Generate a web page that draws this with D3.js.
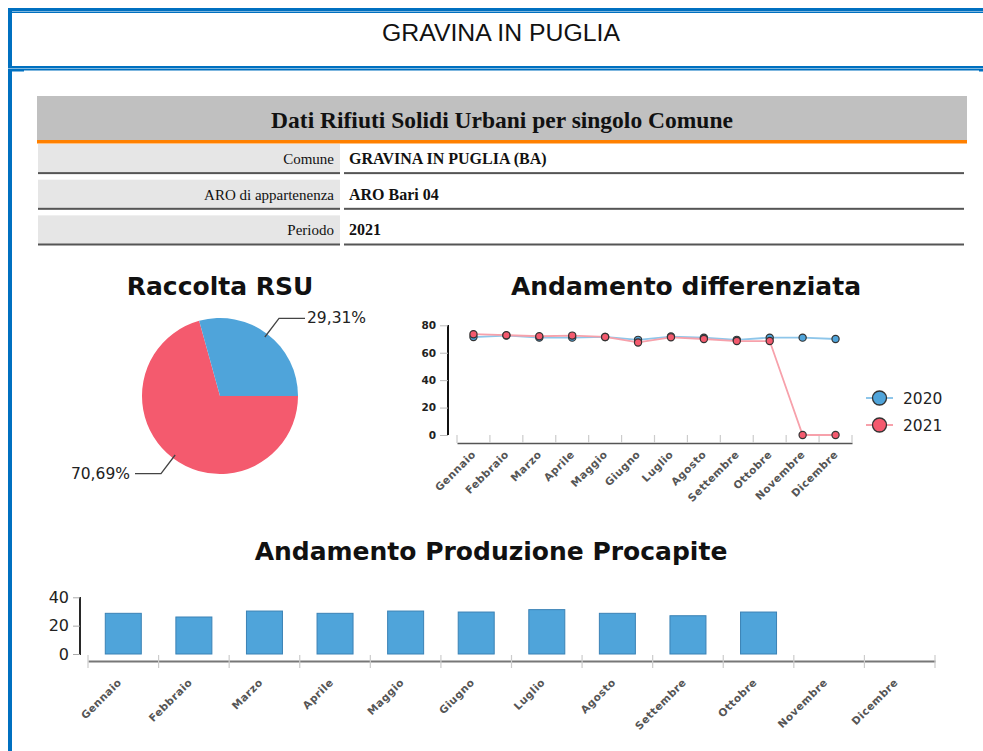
<!DOCTYPE html>
<html>
<head>
<meta charset="utf-8">
<script src="https://cdn.jsdelivr.net/npm/d3@7"></script>
<style>
  body { margin: 0; background: #fff; }
  svg { display: block; }
  .serif { font-family: "Liberation Serif", "Times New Roman", serif; }
  .sans { font-family: "DejaVu Sans", sans-serif; }
</style>
</head>
<body>
<div id="chart"></div>
<script>
const months = ["Gennaio", "Febbraio", "Marzo", "Aprile", "Maggio", "Giugno",
  "Luglio", "Agosto", "Settembre", "Ottobre", "Novembre", "Dicembre"];

const infoLabels = ["Comune", "ARO di appartenenza", "Periodo"];
const infoValues = ["GRAVINA IN PUGLIA (BA)", "ARO Bari 04", "2021"];

// raccolta RSU: red = 70,69%, blue = 29,31%
const pieNames = ["Indifferenziata", "Differenziata"];
const pieValues = [70.69, 29.31];
const pieLabels = ["70,69%", "29,31%"];

const seriesNames = ["2020", "2021"];
const diff2020 = [71.4, 72.5, 71, 71, 71.5, 69.4, 71.8, 71, 69.4, 71, 71, 70];
const diff2021 = [73.5, 72.8, 72, 72.5, 71.5, 67.5, 71.2, 70, 68.5, 68.5, 0, 0];
const diffTicks = [0, 20, 40, 60, 80];

const procapite = [28.7, 26.1, 30.3, 28.7, 30.3, 29.6, 31.3, 28.7, 27.0, 29.6, null, null];
const procapiteTicks = [0, 20, 40];

const blue = "#4fa4da";
const red = "#f45a6e";
const frameBlue = "#0070c0";

const width = 983, height = 751;
const svg = d3.select("#chart").append("svg")
  .attr("width", width).attr("height", height);

// ---- page frame ----
const frame = svg.append("g").attr("fill", frameBlue);
frame.append("rect").attr("x", 8).attr("y", 8).attr("width", 975).attr("height", 3);
frame.append("rect").attr("x", 12).attr("y", 11.5).attr("width", 971).attr("height", 1.5);
frame.append("rect").attr("x", 8).attr("y", 8).attr("width", 4).attr("height", 60);
frame.append("rect").attr("x", 8).attr("y", 66).attr("width", 975).attr("height", 2.5);
frame.append("rect").attr("x", 12).attr("y", 69).attr("width", 971).attr("height", 1.5);
frame.append("rect").attr("x", 8).attr("y", 69).attr("width", 4).attr("height", 682);
frame.append("rect").attr("x", 12).attr("y", 70).attr("width", 12).attr("height", 1.5);
frame.append("rect").attr("x", 979).attr("y", 70).attr("width", 4).attr("height", 1.5);

svg.append("text")
  .attr("x", 501).attr("y", 41)
  .attr("text-anchor", "middle")
  .attr("font-family", "Liberation Sans, sans-serif")
  .attr("font-size", 23)
  .attr("textLength", 238)
  .attr("lengthAdjust", "spacingAndGlyphs")
  .attr("fill", "#111")
  .text("GRAVINA IN PUGLIA");

// ---- info table ----
const table = svg.append("g").attr("class", "serif");
table.append("rect").attr("x", 37).attr("y", 96).attr("width", 930).attr("height", 44).attr("fill", "#c0c0c0");
table.append("rect").attr("x", 37).attr("y", 140).attr("width", 930).attr("height", 3.5).attr("fill", "#ff8000");
table.append("text")
  .attr("x", 502).attr("y", 128)
  .attr("text-anchor", "middle")
  .attr("font-size", 23.5).attr("font-weight", "bold")
  .attr("fill", "#111")
  .text("Dati Rifiuti Solidi Urbani per singolo Comune");

const rowY = d3.scaleBand().domain(infoLabels).range([144, 245]).paddingInner(0.17);
const rows = table.selectAll("g.info-row").data(infoLabels).join("g").attr("class", "info-row");
rows.append("rect")
  .attr("x", 38).attr("y", (d) => rowY(d))
  .attr("width", 302).attr("height", rowY.bandwidth())
  .attr("fill", "#e6e6e6");
rows.append("rect")
  .attr("x", 38).attr("y", (d) => rowY(d) + rowY.bandwidth() - 1.5)
  .attr("width", 302).attr("height", 2)
  .attr("fill", "#555");
rows.append("rect")
  .attr("x", 344).attr("y", (d) => rowY(d) + rowY.bandwidth() - 1.5)
  .attr("width", 620).attr("height", 2)
  .attr("fill", "#555");
rows.append("text")
  .attr("x", 334).attr("y", (d) => rowY(d) + rowY.bandwidth() / 2 + 5)
  .attr("text-anchor", "end")
  .attr("font-size", 15).attr("fill", "#111")
  .text((d) => d);
rows.append("text")
  .attr("x", 349).attr("y", (d) => rowY(d) + rowY.bandwidth() / 2 + 5)
  .attr("font-size", 16).attr("font-weight", "bold").attr("fill", "#111")
  .text((d, i) => infoValues[i]);

// ---- pie ----
const pieG = svg.append("g").attr("class", "sans");
pieG.append("text")
  .attr("x", 220).attr("y", 295)
  .attr("text-anchor", "middle")
  .attr("font-size", 25).attr("font-weight", "bold").attr("fill", "#111")
  .text("Raccolta RSU");

const radius = 78;
const pieCenter = [220, 396];
const pie = d3.pie().sort(null).startAngle(Math.PI / 2).endAngle(Math.PI / 2 + 2 * Math.PI);
const arcs = pie(pieValues);
const arc = d3.arc().innerRadius(0).outerRadius(radius);
const pieColor = d3.scaleOrdinal().domain(pieNames).range([red, blue]);
const slices = pieG.append("g").attr("transform", `translate(${pieCenter})`);
slices.selectAll("path").data(arcs).join("path")
  .attr("d", arc)
  .attr("fill", (d, i) => pieColor(pieNames[i]));

// leader lines
const inner = d3.arc().innerRadius(radius * 0.95).outerRadius(radius * 0.95);
const outer = d3.arc().innerRadius(radius * 1.25).outerRadius(radius * 1.25);
arcs.forEach((a, i) => {
  const p1 = inner.centroid(a);
  const p2 = outer.centroid(a);
  const right = p2[0] > 0;
  const p3 = [p2[0] + (right ? 26 : -26), p2[1]];
  slices.append("polyline")
    .attr("points", [p1, p2, p3].map((p) => p.join(",")).join(" "))
    .attr("fill", "none").attr("stroke", "#444").attr("stroke-width", 1.3);
  slices.append("text")
    .attr("x", p3[0] + (right ? 2 : -5)).attr("y", p3[1] + 5)
    .attr("text-anchor", right ? "start" : "end")
    .attr("font-size", 15.5).attr("fill", "#222")
    .text(pieLabels[i]);
});

// ---- line chart ----
const lineG = svg.append("g").attr("class", "sans");
lineG.append("text")
  .attr("x", 686).attr("y", 295)
  .attr("text-anchor", "middle")
  .attr("font-size", 25).attr("font-weight", "bold").attr("fill", "#111")
  .text("Andamento differenziata");

const lx = d3.scaleBand().domain(months).range([457, 852]);
const ly = d3.scaleLinear().domain([0, 80]).range([435, 325.3]);

const lyAxis = lineG.append("g").attr("transform", "translate(448,0)")
  .call(d3.axisLeft(ly).tickValues(diffTicks).tickSize(8).tickPadding(4));
lyAxis.select(".domain").attr("stroke", "#111").attr("stroke-width", 2).attr("d", "M0,325V435");
lyAxis.selectAll(".tick line").attr("stroke", "#bbb");
lyAxis.selectAll(".tick text").attr("font-family", "DejaVu Sans").attr("font-size", 10.5).attr("fill", "#222").attr("font-weight", "bold");

const lxAxis = lineG.append("g").attr("transform", "translate(0,443)")
  .call(d3.axisBottom(lx).tickSize(0));
lxAxis.select(".domain").attr("stroke", "#555").attr("stroke-width", 1.5);
lxAxis.selectAll(".tick text")
  .attr("font-family", "DejaVu Sans").attr("font-size", 10.5).attr("font-weight", "bold")
  .attr("fill", "#555").attr("letter-spacing", 0.5)
  .attr("text-anchor", "end")
  .attr("x", 0).attr("y", 0).attr("dy", 0)
  .attr("transform", "translate(3,12) rotate(-45)");
lineG.append("g").selectAll("line").data(months.concat([null])).join("line")
  .attr("x1", (d, i) => lx.range()[0] + i * lx.step())
  .attr("x2", (d, i) => lx.range()[0] + i * lx.step())
  .attr("y1", 435).attr("y2", 443)
  .attr("stroke", "#ccc").attr("stroke-width", 1.2);

const series = [
  {name: seriesNames[0], values: diff2020, color: blue, lineColor: "#8ec6ea"},
  {name: seriesNames[1], values: diff2021, color: red, lineColor: "#f7a1ab"}
];
const line = d3.line()
  .x((d, i) => lx(months[i]) + lx.bandwidth() / 2)
  .y((d) => ly(d));
series.forEach((s) => {
  lineG.append("path")
    .attr("d", line(s.values))
    .attr("fill", "none").attr("stroke", s.lineColor).attr("stroke-width", 1.8);
});
series.forEach((s) => {
  lineG.append("g").selectAll("circle").data(s.values).join("circle")
    .attr("cx", (d, i) => lx(months[i]) + lx.bandwidth() / 2)
    .attr("cy", (d) => ly(d))
    .attr("r", 3.6)
    .attr("fill", s.color).attr("stroke", "#333").attr("stroke-width", 1.2);
});

// legend
const legend = lineG.append("g").attr("transform", "translate(866,398)");
const leg = legend.selectAll("g").data(series).join("g")
  .attr("transform", (d, i) => `translate(0,${i * 27})`);
leg.append("line").attr("x1", 0).attr("x2", 27).attr("y1", 0).attr("y2", 0)
  .attr("stroke", (d) => d.lineColor).attr("stroke-width", 2);
leg.append("circle").attr("cx", 13.5).attr("cy", 0).attr("r", 7)
  .attr("fill", (d) => d.color).attr("stroke", "#333").attr("stroke-width", 1.3);
leg.append("text").attr("x", 37).attr("y", 5.5)
  .attr("font-size", 15.5).attr("fill", "#222")
  .text((d) => d.name);

// ---- bar chart ----
const barG = svg.append("g").attr("class", "sans");
barG.append("text")
  .attr("x", 491).attr("y", 560)
  .attr("text-anchor", "middle")
  .attr("font-size", 25).attr("font-weight", "bold").attr("fill", "#111")
  .text("Andamento Produzione Procapite");

const bx = d3.scaleBand().domain(months).range([88, 935]).paddingInner(0).paddingOuter(0);
const by = d3.scaleLinear().domain([0, 40]).range([654, 597.3]);

const byAxis = barG.append("g").attr("transform", "translate(80,0)")
  .call(d3.axisLeft(by).tickValues(procapiteTicks).tickSize(7).tickPadding(4));
byAxis.select(".domain").attr("stroke", "#111").attr("stroke-width", 1.8).attr("d", "M0,597V655");
byAxis.selectAll(".tick line").attr("stroke", "#aaa");
byAxis.selectAll(".tick text").attr("font-family", "DejaVu Sans").attr("font-size", 16).attr("fill", "#222");

const bxAxis = barG.append("g").attr("transform", "translate(0,661)")
  .call(d3.axisBottom(bx).tickSize(0));
bxAxis.select(".domain").attr("stroke", "#777").attr("stroke-width", 2);
bxAxis.selectAll(".tick text")
  .attr("font-family", "DejaVu Sans").attr("font-size", 10.5).attr("font-weight", "bold")
  .attr("fill", "#555").attr("letter-spacing", 0.5)
  .attr("text-anchor", "end")
  .attr("x", 0).attr("y", 0).attr("dy", 0)
  .attr("transform", "translate(-1,22) rotate(-45)");
barG.append("g").selectAll("line").data(months.concat([null])).join("line")
  .attr("x1", (d, i) => bx.range()[0] + i * bx.step())
  .attr("x2", (d, i) => bx.range()[0] + i * bx.step())
  .attr("y1", 655).attr("y2", 668)
  .attr("stroke", "#ccc").attr("stroke-width", 1.2);

const barW = 36;
barG.append("g").selectAll("rect")
  .data(procapite.map((v, i) => ({month: months[i], value: v})).filter((d) => d.value != null))
  .join("rect")
  .attr("x", (d) => bx(d.month) + bx.bandwidth() / 2 - barW / 2)
  .attr("y", (d) => by(d.value))
  .attr("width", barW)
  .attr("height", (d) => by(0) - by(d.value))
  .attr("fill", blue).attr("stroke", "#3b82b5").attr("stroke-width", 1);
</script>
</body>
</html>
